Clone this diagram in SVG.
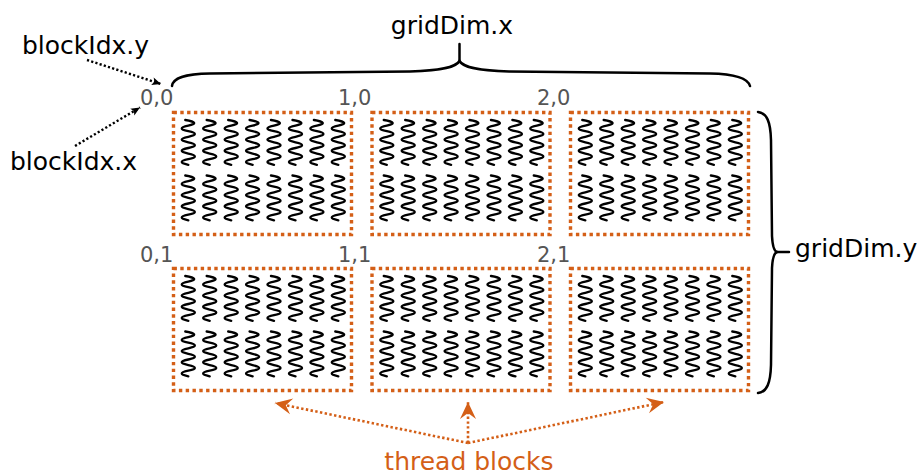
<svg xmlns="http://www.w3.org/2000/svg" xmlns:xlink="http://www.w3.org/1999/xlink" width="921" height="475" viewBox="0 0 921 475">
  <style>
    .lbl { font-family: "DejaVu Sans", "Liberation Sans", sans-serif; font-size: 25px; fill: #000; }
    .idx { font-family: "DejaVu Sans", "Liberation Sans", sans-serif; font-size: 21px; fill: #555; }
    .tb { font-family: "DejaVu Sans", "Liberation Sans", sans-serif; font-size: 25px; fill: #d45f17; }
    .blk { fill: none; stroke: #d45f17; stroke-width: 3.4; stroke-dasharray: 3.4 3.4; }
    .thr { fill: none; stroke: #000; stroke-width: 2.4; stroke-linecap: round; stroke-linejoin: round; }
    .brace { fill: none; stroke: #000; stroke-width: 2.5; stroke-linecap: round; }
    .ptr { fill: none; stroke: #000; stroke-width: 2.4; stroke-dasharray: 2.2 2.2; }
    .optr { fill: none; stroke: #d45f17; stroke-width: 2.6; stroke-dasharray: 2.4 2.4; }
  </style>
  <defs>
    <marker id="headK" markerUnits="userSpaceOnUse" viewBox="-10 -5 11 10" refX="0" refY="0" markerWidth="11" markerHeight="10" orient="auto">
      <path d="M0,0 L-9,-4 L-7,0 L-9,4 Z" fill="#000"/>
    </marker>
    <marker id="headO" markerUnits="userSpaceOnUse" viewBox="-18 -9 19 18" refX="0" refY="0" markerWidth="19" markerHeight="18" orient="auto">
      <path d="M0,0 L-17,-8 L-11,0 L-17,8 Z" fill="#d45f17"/>
    </marker>
    <!-- one thread: a vertical wavy stroke -->
    <path id="sq" class="thr" d="M-3,0 Q13,2.8 0,5.6 T0,11.2 T0,16.8 T0,22.4 T0,28 T0,33.6 T0,39.2 T0,44.8"/>
    <!-- 8 x 2 threads of a block, relative to the block's top-left corner -->
    <g id="threads">
      <use xlink:href="#sq" x="14.8" y="7.5"/>
      <use xlink:href="#sq" x="36.2" y="7.5"/>
      <use xlink:href="#sq" x="57.7" y="7.5"/>
      <use xlink:href="#sq" x="79.1" y="7.5"/>
      <use xlink:href="#sq" x="100.5" y="7.5"/>
      <use xlink:href="#sq" x="122" y="7.5"/>
      <use xlink:href="#sq" x="143.4" y="7.5"/>
      <use xlink:href="#sq" x="164.8" y="7.5"/>
      <use xlink:href="#sq" x="14.8" y="63"/>
      <use xlink:href="#sq" x="36.2" y="63"/>
      <use xlink:href="#sq" x="57.7" y="63"/>
      <use xlink:href="#sq" x="79.1" y="63"/>
      <use xlink:href="#sq" x="100.5" y="63"/>
      <use xlink:href="#sq" x="122" y="63"/>
      <use xlink:href="#sq" x="143.4" y="63"/>
      <use xlink:href="#sq" x="164.8" y="63"/>
    </g>
  </defs>

  <rect width="921" height="475" fill="#fff"/>

  <!-- thread blocks of the grid -->
  <g id="block-0-0">
    <rect class="blk" x="173.5" y="112.5" width="178" height="122"/>
    <use xlink:href="#threads" x="173.5" y="112.5"/>
    <text class="idx" x="140" y="105">0,0</text>
  </g>
  <g id="block-1-0">
    <rect class="blk" x="372" y="112.5" width="178" height="122"/>
    <use xlink:href="#threads" x="372" y="112.5"/>
    <text class="idx" x="338" y="105">1,0</text>
  </g>
  <g id="block-2-0">
    <rect class="blk" x="570.5" y="112.5" width="178" height="122"/>
    <use xlink:href="#threads" x="570.5" y="112.5"/>
    <text class="idx" x="537" y="105">2,0</text>
  </g>
  <g id="block-0-1">
    <rect class="blk" x="173.5" y="268.5" width="178" height="122"/>
    <use xlink:href="#threads" x="173.5" y="268.5"/>
    <text class="idx" x="140" y="262">0,1</text>
  </g>
  <g id="block-1-1">
    <rect class="blk" x="372" y="268.5" width="178" height="122"/>
    <use xlink:href="#threads" x="372" y="268.5"/>
    <text class="idx" x="338" y="262">1,1</text>
  </g>
  <g id="block-2-1">
    <rect class="blk" x="570.5" y="268.5" width="178" height="122"/>
    <use xlink:href="#threads" x="570.5" y="268.5"/>
    <text class="idx" x="537" y="262">2,1</text>
  </g>

  <!-- grid dimension braces -->
  <g id="gridDim-x">
    <path class="brace" d="M172,86 C173,78 184,74 210,73.5 L410,71.5 C444,70.5 456,67 459.5,61 C463,67 475,70.5 509,71.5 L710,73.5 C736,74 748,79 750,86"/>
    <path class="brace" d="M459.5,61 L459.5,44"/>
    <text class="lbl" x="452" y="34" text-anchor="middle">gridDim.x</text>
  </g>
  <g id="gridDim-y">
    <path class="brace" d="M758,112 C767,113 770.5,122 771,140 L772,236 C772.5,246 774,251 777,252 C774,253 772.5,258 772,268 L771,365 C770.5,383 767,392 758,393"/>
    <path class="brace" d="M777,252 L789,252"/>
    <text class="lbl" x="795" y="257">gridDim.y</text>
  </g>

  <!-- axis labels -->
  <g id="blockIdx-y">
    <text class="lbl" x="22" y="54">blockIdx.y</text>
  </g>
  <g id="blockIdx-x">
    <text class="lbl" x="10" y="170">blockIdx.x</text>
  </g>
  <g id="thread-blocks">
    <text class="tb" x="469" y="470" text-anchor="middle">thread blocks</text>
  </g>

  <!-- connectors -->
  <g id="connectors">
    <path class="ptr" d="M87,60 L161,84" marker-end="url(#headK)"/>
    <path class="ptr" d="M75,146 L140,107.5" marker-end="url(#headK)"/>
    <path class="optr" d="M468,443 L275,403" marker-end="url(#headO)"/>
    <path class="optr" d="M468,443 L468,402" marker-end="url(#headO)"/>
    <path class="optr" d="M468,443 L664,402" marker-end="url(#headO)"/>
  </g>
</svg>
